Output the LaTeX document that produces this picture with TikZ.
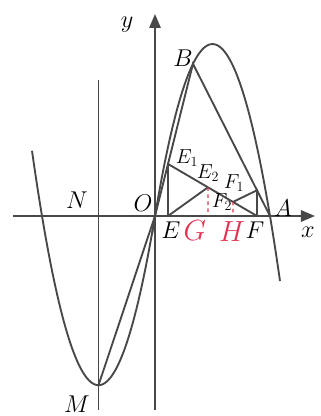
\documentclass[tikz,border=0pt]{standalone}
\usetikzlibrary{arrows.meta,calc}
\definecolor{inkgray}{RGB}{72,72,72}
\definecolor{markred}{RGB}{226,52,82}
\tikzset{
  curve/.style={draw=inkgray, line width=1.6pt},
  seg/.style={draw=inkgray, line width=1.6pt},
  axis/.style={draw=inkgray, line width=1.6pt, -{Triangle[length=4.2mm,width=3.4mm]}},
  lbl/.style={font=\huge, inner sep=0pt},
  sublbl/.style={font=\LARGE, inner sep=0pt},
  redlbl/.style={font=\Huge, text=markred, inner sep=0pt},
  foot/.style={draw=markred, line width=1.2pt, dashed},
}

\begin{document}
\begin{tikzpicture}[x=0.03cm, y=0.03cm]
\useasboundingbox (-155,-200) rectangle (166,216);
\coordinate (O) at (0,0);
\coordinate (xs) at (-142,0);
\coordinate (xe) at (160,0);
\coordinate (ys) at (0,-194);
\coordinate (ye) at (0,202);
\coordinate (Ntop) at (-56.5,136);
\coordinate (Nbot) at (-56.5,-194);
\coordinate (M) at (-56.5,-169.2);
\coordinate (A) at (115,0);
\coordinate (B) at (38,152.2);
\coordinate (E) at (13,0);
\coordinate (F) at (102,0);
\coordinate (E1) at ($(O)!0.342!(B)$);
\coordinate (F1) at ($(A)!0.169!(B)$);
\coordinate (E2) at ($(E1)!0.449!(F)$);
\coordinate (F2) at ($(E1)!0.730!(F)$);
\coordinate (G) at (53,0);
\coordinate (H) at (78,0);
\draw[axis] (xs) -- (xe);
\draw[axis] (ys) -- (ye);
\draw[seg] (Ntop) -- (Nbot);
\draw[curve] plot[domain=-123:2, samples=80] (\x,{0.053*\x*(\x+113)});
\draw[curve] plot[domain=-3:125, samples=80] (\x,{-0.052*\x*(\x-115)});
\draw[seg] (M) -- (O) -- (B) -- (A);
\draw[seg] (E) -- (E1) -- (F);
\draw[seg] (F) -- (F1) -- (F2);
\draw[seg] (E) -- (E2);
\draw[foot] (E2) -- (G);
\draw[foot] (F2) -- (H);
\node[lbl] (lx) at (153,-16) {$x$};
\node[lbl] (ly) at (-28,191) {$y$};
\node[lbl] (lO) at (-12,13) {$O$};
\node[lbl] (lN) at (-78,16) {$N$};
\node[lbl] (lM) at (-78,-188) {$M$};
\node[lbl] (lA) at (128,8) {$A$};
\node[lbl] (lB) at (28,158) {$B$};
\node[lbl] (lE) at (16,-14) {$E$};
\node[lbl] (lF) at (100,-14) {$F$};
\node[sublbl] (lE1) at (32,58) {$E_1$};
\node[sublbl] (lE2) at (53,43) {$E_2$};
\node[sublbl] (lF1) at (79,33) {$F_1$};
\node[sublbl] (lF2) at (67,14) {$F_2$};
\node[redlbl] (lG) at (40,-15) {$G$};
\node[redlbl] (lH) at (77,-16) {$H$};
\end{tikzpicture}
\end{document}
